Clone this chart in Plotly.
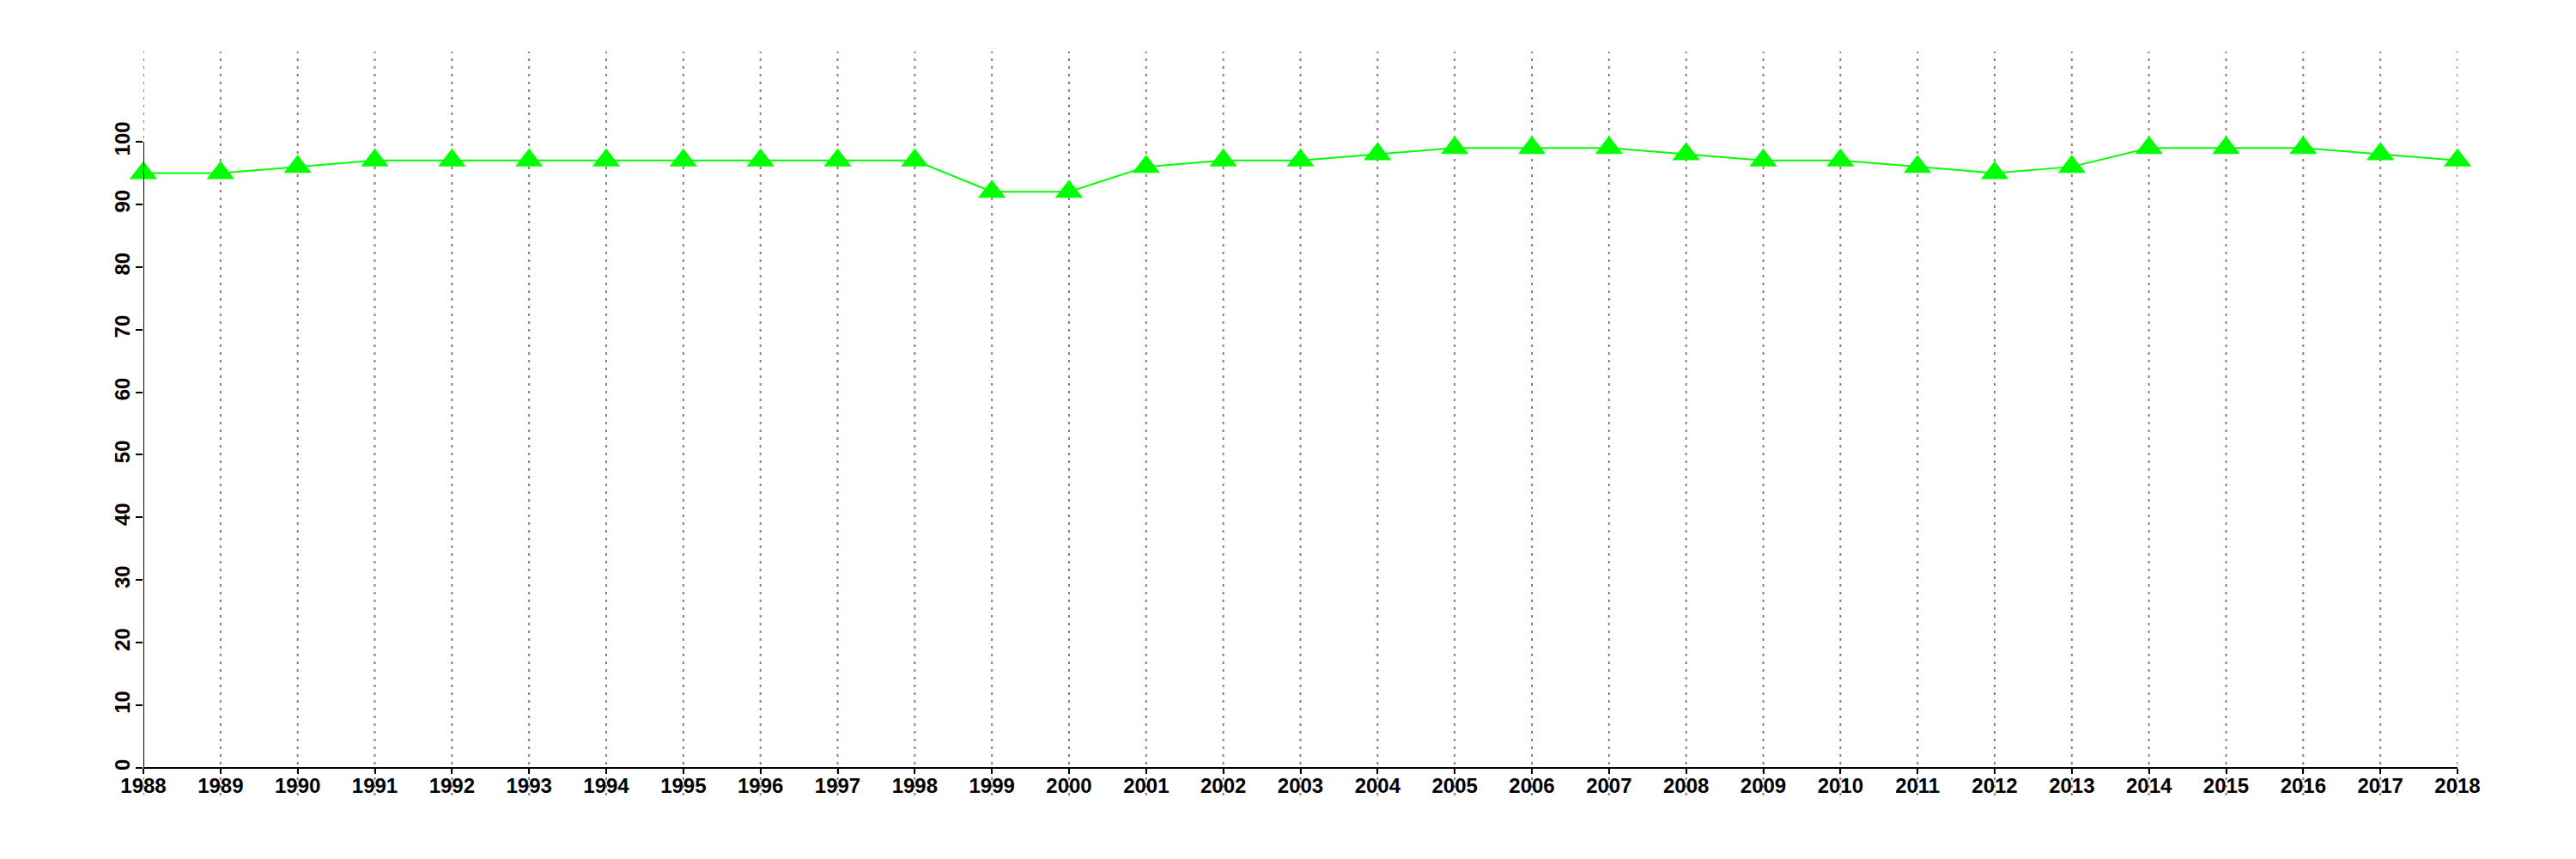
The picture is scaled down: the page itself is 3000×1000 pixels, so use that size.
import plotly.graph_objects as go

years = list(range(1988, 2019))
values = [95, 95, 96, 97, 97, 97, 97, 97, 97, 97, 97, 92, 92, 96, 97, 97, 98, 99, 99, 99,
          98, 97, 97, 96, 95, 96, 99, 99, 99, 98, 97]
y_ticks = list(range(0, 101, 10))

Y_LO, Y_HI = -4.4, 114.4

fig = go.Figure()
fig.add_trace(go.Scatter(
    x=years, y=values, mode="lines+markers",
    line=dict(color="#00FF00", width=2),
    marker=dict(symbol="triangle-up", size=28, color="#00FF00", line=dict(width=0)),
    cliponaxis=False, showlegend=False,
))

shapes = []
for yr in years:
    shapes.append(dict(type="line", xref="x", yref="paper", x0=yr, x1=yr, y0=0, y1=1,
                       line=dict(color="#808080", width=2, dash="3px,6px"), layer="below"))
shapes.append(dict(type="line", xref="x", yref="y", x0=years[0], x1=years[0],
                   y0=y_ticks[0], y1=y_ticks[-1], line=dict(color="black", width=2)))
fig.update_layout(shapes=shapes)

font = dict(family="Liberation Sans, Arial, sans-serif", size=24, color="black", weight="bold")

fig.update_layout(
    width=3000, height=1000,
    margin=dict(l=159, r=146, t=52, b=82, autoexpand=False),
    paper_bgcolor="white", plot_bgcolor="white",
    xaxis=dict(range=[years[0], years[-1]], tickvals=years, ticktext=[str(y) for y in years],
               showgrid=False, zeroline=False, showline=True, linecolor="black", linewidth=2,
               ticks="outside", ticklen=6, tickwidth=2, tickcolor="black", automargin=False,
               ticklabelstandoff=-7,
               anchor="free", position=(0 - Y_LO) / (Y_HI - Y_LO), tickfont=font),
    yaxis=dict(range=[Y_LO, Y_HI], tickvals=y_ticks, ticktext=[str(v) for v in y_ticks],
               showgrid=False, zeroline=False, showline=False, automargin=False,
               ticks="outside", ticklen=8, tickwidth=2, tickcolor="black",
               ticklabelstandoff=-3,
               tickangle=-90, tickfont=font),
)

fig.write_html("out.html")
